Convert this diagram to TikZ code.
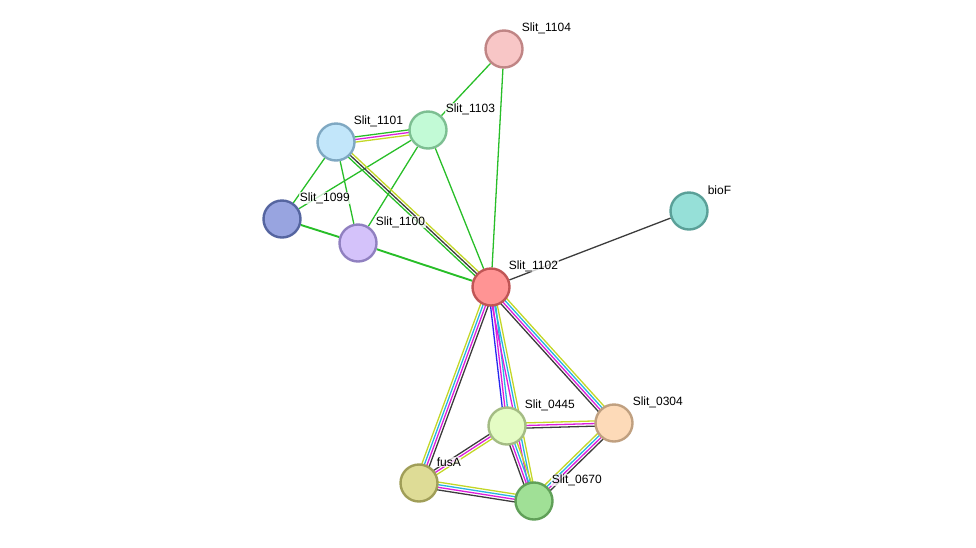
\documentclass[tikz,border=0pt]{standalone}
\usepackage{fontspec}
\setmainfont{Liberation Sans}
\usetikzlibrary{calc,backgrounds}
\definecolor{eg}{RGB}{40,190,40}
\definecolor{em}{RGB}{220,30,220}
\definecolor{ey}{RGB}{195,215,40}
\definecolor{ec}{RGB}{40,180,225}
\definecolor{ek}{RGB}{60,60,60}
\definecolor{eb}{RGB}{40,40,240}
\tikzset{
  prot/.style={circle,minimum size=37pt,inner sep=0pt,line width=2.4pt},
  lbl/.style={anchor=west,font=\fontsize{12pt}{13pt}\selectfont,inner sep=0.6pt,fill=white,fill opacity=0.75,text opacity=1},
  edge/.style={line width=1.3pt},
  thick edge/.style={line width=1.9pt}
}
\newcommand\multiedge[4]{%
  \foreach \cc [count=\ii] in {#4}{%
    \pgfmathsetmacro\off{(\ii-(#3+1)/2)*2.6}%
    \draw[edge,\cc] ($(#1)!\off pt!90:(#2)$) -- ($(#2)!\off pt!-90:(#1)$);
  }}
\begin{document}
\begin{tikzpicture}[x=1pt,y=-1pt]
\useasboundingbox (0,0) rectangle (976,547);
\node[prot,fill={rgb,255:red,248;green,198;blue,198},draw={rgb,255:red,192;green,133;blue,133}] (n1104) at (504,49) {};
\node[prot,fill={rgb,255:red,194;green,250;blue,214},draw={rgb,255:red,125;green,191;blue,146}] (n1103) at (428,130) {};
\node[prot,fill={rgb,255:red,194;green,230;blue,250},draw={rgb,255:red,127;green,168;blue,194}] (n1101) at (336,142) {};
\node[prot,fill={rgb,255:red,150;green,224;blue,216},draw={rgb,255:red,90;green,160;blue,152}] (bioF) at (689,211) {};
\node[prot,fill={rgb,255:red,152;green,164;blue,224},draw={rgb,255:red,85;green,101;blue,160}] (n1099) at (282,219) {};
\node[prot,fill={rgb,255:red,212;green,194;blue,250},draw={rgb,255:red,144;green,128;blue,192}] (n1100) at (358,243) {};
\node[prot,fill={rgb,255:red,255;green,148;blue,148},draw={rgb,255:red,192;green,85;blue,85}] (n1102) at (491,287) {};
\node[prot,fill={rgb,255:red,228;green,252;blue,196},draw={rgb,255:red,164;green,188;blue,132}] (n0445) at (507,426) {};
\node[prot,fill={rgb,255:red,253;green,218;blue,184},draw={rgb,255:red,192;green,160;blue,128}] (n0304) at (614,423) {};
\node[prot,fill={rgb,255:red,222;green,220;blue,150},draw={rgb,255:red,160;green,158;blue,88}] (fusA) at (419,483) {};
\node[prot,fill={rgb,255:red,160;green,224;blue,150},draw={rgb,255:red,96;green,160;blue,88}] (n0670) at (534,501) {};

\node[lbl] (l1104) at (521,28) {Slit\_1104};
\node[lbl] (l1103) at (445,109) {Slit\_1103};
\node[lbl] (l1101) at (353,121) {Slit\_1101};
\node[lbl] (lbioF) at (707,190) {bioF};
\node[lbl] (l1099) at (299,198) {Slit\_1099};
\node[lbl] (l1100) at (375,222) {Slit\_1100};
\node[lbl] (l1102) at (508,266) {Slit\_1102};
\node[lbl] (l0445) at (524,405) {Slit\_0445};
\node[lbl] (l0304) at (632,402) {Slit\_0304};
\node[lbl] (lfusA) at (436,462) {fusA};
\node[lbl] (l0670) at (551,480) {Slit\_0670};

\begin{pgfonlayer}{background}
\draw[edge,eg] (n1104) -- (n1103);
\draw[edge,eg] (n1104) -- (n1102);
\multiedge{n1101}{n1103}{3}{ey,em,eg}
\draw[edge,eg] (n1103) -- (n1099);
\draw[edge,eg] (n1103) -- (n1100);
\draw[edge,eg] (n1103) -- (n1102);
\draw[edge,eg] (n1101) -- (n1099);
\draw[edge,eg] (n1101) -- (n1100);
\multiedge{n1101}{n1102}{3}{eg,ek,ey}
\draw[thick edge,eg] (n1099) -- (n1100);
\draw[thick edge,eg] (n1100) -- (n1102);
\draw[edge,ek] (bioF) -- (n1102);
\multiedge{n1102}{fusA}{4}{ey,ec,em,ek}
\multiedge{n1102}{n0445}{3}{eb,em,ec}
\multiedge{n1102}{n0670}{3}{em,ec,ey}
\multiedge{n1102}{n0304}{4}{ek,em,ec,ey}
\multiedge{n0445}{n0304}{3}{ek,em,ey}
\multiedge{n0445}{fusA}{3}{ek,em,ey}
\multiedge{n0445}{n0670}{4}{ek,em,ec,ey}
\multiedge{n0304}{n0670}{4}{ey,ec,em,ek}
\multiedge{fusA}{n0670}{4}{ek,em,ec,ey}
\end{pgfonlayer}
\end{tikzpicture}
\end{document}
